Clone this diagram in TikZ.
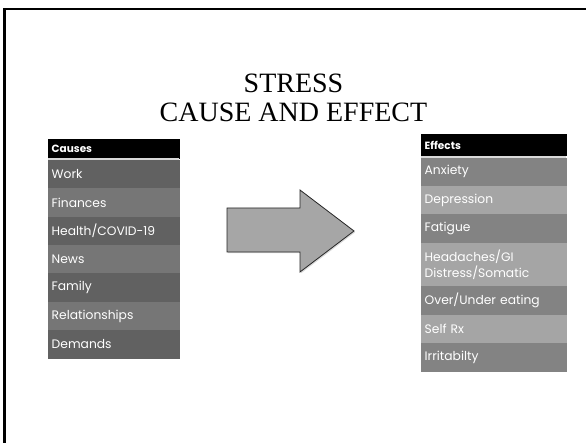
\documentclass[tikz,border=0pt]{standalone}
\usepackage{fontspec}
\setmainfont{Liberation Serif}
\newfontfamily\gothic{Poppins}
\usetikzlibrary{positioning,shadows}

\definecolor{cdark}{HTML}{616161}
\definecolor{clight}{HTML}{767676}
\definecolor{edark}{HTML}{838383}
\definecolor{elight}{HTML}{A5A5A5}
\definecolor{arrowfill}{HTML}{A6A6A6}

\begin{document}
\begin{tikzpicture}[x=1pt,y=-1pt,font=\gothic\fontsize{12.3}{15.5}\selectfont,
 cell/.style={text=white,inner xsep=3.5pt,inner ysep=0pt,align=left,minimum height=28pt,line width=0.4pt},
 head/.style={cell,anchor=north west,fill=black,draw=black,font=\gothic\bfseries\fontsize{10.5}{12}\selectfont},
 cause/.style={cell,text width=124pt},
 effect/.style={cell,text width=138pt},
 dark/.style={fill=#1,draw=#1},
 sep/.style={draw=black!15,line width=1.8pt},
 bigarrow/.style={draw=black!85,line width=0.8pt,fill=arrowfill,drop shadow={opacity=0.3,shadow xshift=1.2pt,shadow yshift=-1.2pt}}]
\useasboundingbox (0,0) rectangle (586,443);
\draw[line width=2.6pt] (586,9.2) -- (4.5,9.2) -- (4.5,443);
% title
\node[font=\fontsize{28}{30}\selectfont,anchor=base] (stress) at (293.5,93) {STRESS};
\node[font=\fontsize{28}{30}\selectfont,anchor=base] (title) at (293.5,122) {CAUSE AND EFFECT};
% causes
\node[head,cause,minimum height=18.4pt] (causes) at (48,139.3) {Causes};
\node[cause,dark=cdark,below=1.8pt of causes] (work) {Work};
\node[cause,dark=clight,below=0pt of work] (finances) {Finances};
\node[cause,dark=cdark,below=0pt of finances] (health) {Health/COVID-19};
\node[cause,dark=clight,below=0pt of health] (news) {News};
\node[cause,dark=cdark,below=0pt of news] (family) {Family};
\node[cause,dark=clight,below=0pt of family] (relations) {Relationships};
\node[cause,dark=cdark,below=0pt of relations] (demands) {Demands};
\draw[sep] ([yshift=-0.9pt]causes.south west) -- ([yshift=-0.9pt]causes.south east);
% effects
\node[head,effect,minimum height=21.5pt] (effects) at (421,134) {Effects};
\node[effect,dark=edark,below=1.8pt of effects] (anxiety) {Anxiety};
\node[effect,dark=elight,below=0pt of anxiety] (depression) {Depression};
\node[effect,dark=edark,below=0pt of depression] (fatigue) {Fatigue};
\node[effect,dark=elight,minimum height=43pt,below=0pt of fatigue] (somatic) {Headaches/GI\\Distress/Somatic};
\node[effect,dark=edark,below=0pt of somatic] (eating) {Over/Under eating};
\node[effect,dark=elight,below=0pt of eating] (selfrx) {Self Rx};
\node[effect,dark=edark,below=0pt of selfrx] (irritable) {Irritabilty};
\draw[sep] ([yshift=-0.9pt]effects.south west) -- ([yshift=-0.9pt]effects.south east);
% arrow
\draw[bigarrow] (227,208) -- (300,208) -- (300,190) -- (354,231) -- (300,272) -- (300,252) -- (227,252) -- cycle;
\end{tikzpicture}
\end{document}
